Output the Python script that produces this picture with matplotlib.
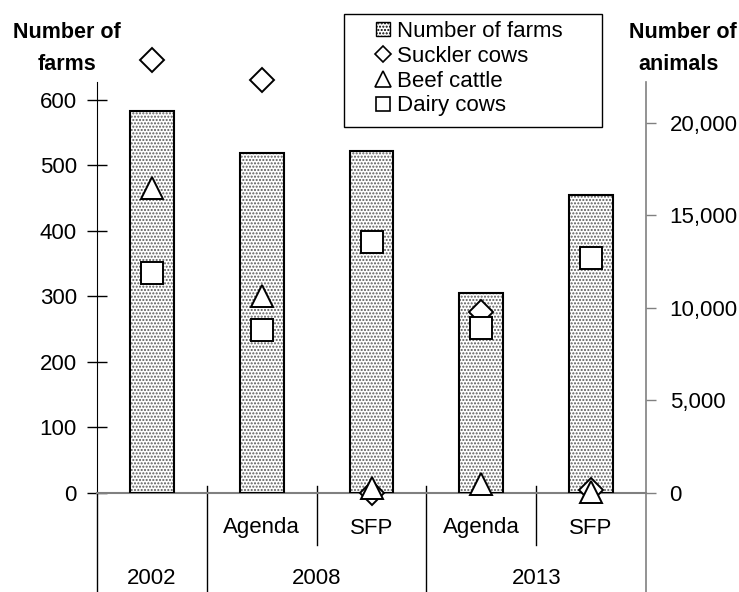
import matplotlib
matplotlib.use("Agg")
import matplotlib.pyplot as plt
from matplotlib.lines import Line2D
from matplotlib.patches import Patch, Rectangle
from matplotlib.ticker import FuncFormatter

plt.rcParams['font.family'] = ['Liberation Sans', 'DejaVu Sans']
plt.rcParams['hatch.linewidth'] = 1.0
plt.rcParams['hatch.color'] = '#5a5a5a'

# Category structure: scheme below each bar, year group underneath
schemes = ["", "Agenda", "SFP", "Agenda", "SFP"]
years = ["2002", "2008", "2013"]
year_spans = [(0, 0), (1, 2), (3, 4)]

# Number of farms (left axis)
farms = [583, 519, 522, 305, 454]

# Number of animals (right axis)
suckler_cows = [23400, 22300, 0, 9750, 180]
beef_cattle = [16500, 10650, 270, 490, 70]
dairy_cows = [11900, 8800, 13570, 8920, 12720]

FS = 16
TFS = 15.5
W, H = 739, 592
fig = plt.figure(figsize=(W / 100, H / 100), dpi=100)
ax = fig.add_axes([97 / W, 1 - 493 / H, (646 - 97) / W, (493 - 82) / H])
ax2 = ax.twinx()

x = list(range(len(farms)))

# Bars: grey dotted fill, then a black outline on top
ax.bar(x, farms, width=0.4, color='white', edgecolor='#5a5a5a', hatch='.....',
       linewidth=0, zorder=2)
ax.bar(x, farms, width=0.4, fill=False, edgecolor='black', linewidth=1.5, zorder=3)

ax.set_xlim(-0.5, len(farms) - 0.5)
ax.set_ylim(0, 627)
ax.set_yticks([0, 100, 200, 300, 400, 500, 600])
ax.set_xticks([])
ax.tick_params(axis='y', direction='inout', length=15, width=1, labelsize=FS, pad=7)

ax2.set_ylim(0, 22200)
ax2.set_yticks([0, 5000, 10000, 15000, 20000])
ax2.yaxis.set_major_formatter(FuncFormatter(lambda v, p: f"{int(v):,}"))
ax2.tick_params(axis='y', direction='out', length=7, width=1, color='#808080',
                labelsize=FS, pad=10)

mk = dict(linestyle='none', markerfacecolor='white', markeredgecolor='black',
          markeredgewidth=1.4, clip_on=False)
ax2.plot(x, suckler_cows, marker='D', markersize=12, zorder=4, **mk)
ax2.plot(x, beef_cattle, marker='^', markersize=16.5, zorder=5, **mk)
ax2.plot(x, dairy_cows, marker='s', markersize=15.5, zorder=6, **mk)

for a in (ax, ax2):
    a.spines['top'].set_visible(False)
ax.spines['left'].set_color('black')
ax.spines['bottom'].set_color('#808080')
ax.spines['bottom'].set_linewidth(1.5)
ax2.spines['left'].set_visible(False)
ax2.spines['bottom'].set_visible(False)
ax2.spines['right'].set_color('#808080')
ax2.spines['right'].set_linewidth(1.2)
ax.spines['right'].set_visible(False)

# Multi-level category axis
tr = ax.get_xaxis_transform()
bottom = -99 / 411
mid = -52 / 411
top = 7 / 411
ax.plot([-0.5, -0.5], [0, bottom], transform=tr, color='black', lw=1, clip_on=False)
ax.plot([4.5, 4.5], [0, bottom], transform=tr, color='#808080', lw=1.2, clip_on=False)
for xb in (0.5, 2.5):
    ax.plot([xb, xb], [top, bottom], transform=tr, color='black', lw=1, clip_on=False)
for xb in (1.5, 3.5):
    ax.plot([xb, xb], [top, mid], transform=tr, color='black', lw=1, clip_on=False)
for xi, s in zip(x, schemes):
    if s:
        ax.text(xi, -35 / 411, s, transform=tr, ha='center', va='center', fontsize=FS)
for (a0, a1), yr in zip(year_spans, years):
    ax.text((a0 + a1) / 2, -85 / 411, yr, transform=tr, ha='center', va='center',
            fontsize=FS)

# Axis titles
fig.text(67 / W, 1 - 33 / H, "Number of", ha='center', va='center', fontsize=TFS,
         fontweight='bold')
fig.text(67 / W, 1 - 65 / H, "farms", ha='center', va='center', fontsize=TFS,
         fontweight='bold')
fig.text(683 / W, 1 - 33 / H, "Number of", ha='center', va='center', fontsize=TFS,
         fontweight='bold')
fig.text(679 / W, 1 - 65 / H, "animals", ha='center', va='center', fontsize=TFS,
         fontweight='bold')

# Legend with its own frame
fig.patches.append(Rectangle((344 / W, 1 - 127 / H), (602 - 344) / W, 113 / H,
                             transform=fig.transFigure, facecolor='white',
                             edgecolor='black', linewidth=1, zorder=10))
hmk = dict(linestyle='none', markerfacecolor='white', markeredgecolor='black',
           markeredgewidth=1.2)
handles = [
    Patch(facecolor='white', edgecolor='black', hatch='.....', linewidth=1),
    Line2D([], [], marker='D', markersize=8, **hmk),
    Line2D([], [], marker='^', markersize=11, **hmk),
    Line2D([], [], marker='s', markersize=10, **hmk),
]
labels = ["Number of farms", "Suckler cows", "Beef cattle", "Dairy cows"]
leg = fig.legend(handles, labels, loc='upper left',
                 bbox_to_anchor=(376 / W, 1 - 21 / H), frameon=False,
                 fontsize=FS, handlelength=0.65, handleheight=0.6,
                 handletextpad=0.3, labelspacing=0.17, borderpad=0,
                 borderaxespad=0)
leg.set_zorder(11)

fig.savefig("out.png", dpi=100)
